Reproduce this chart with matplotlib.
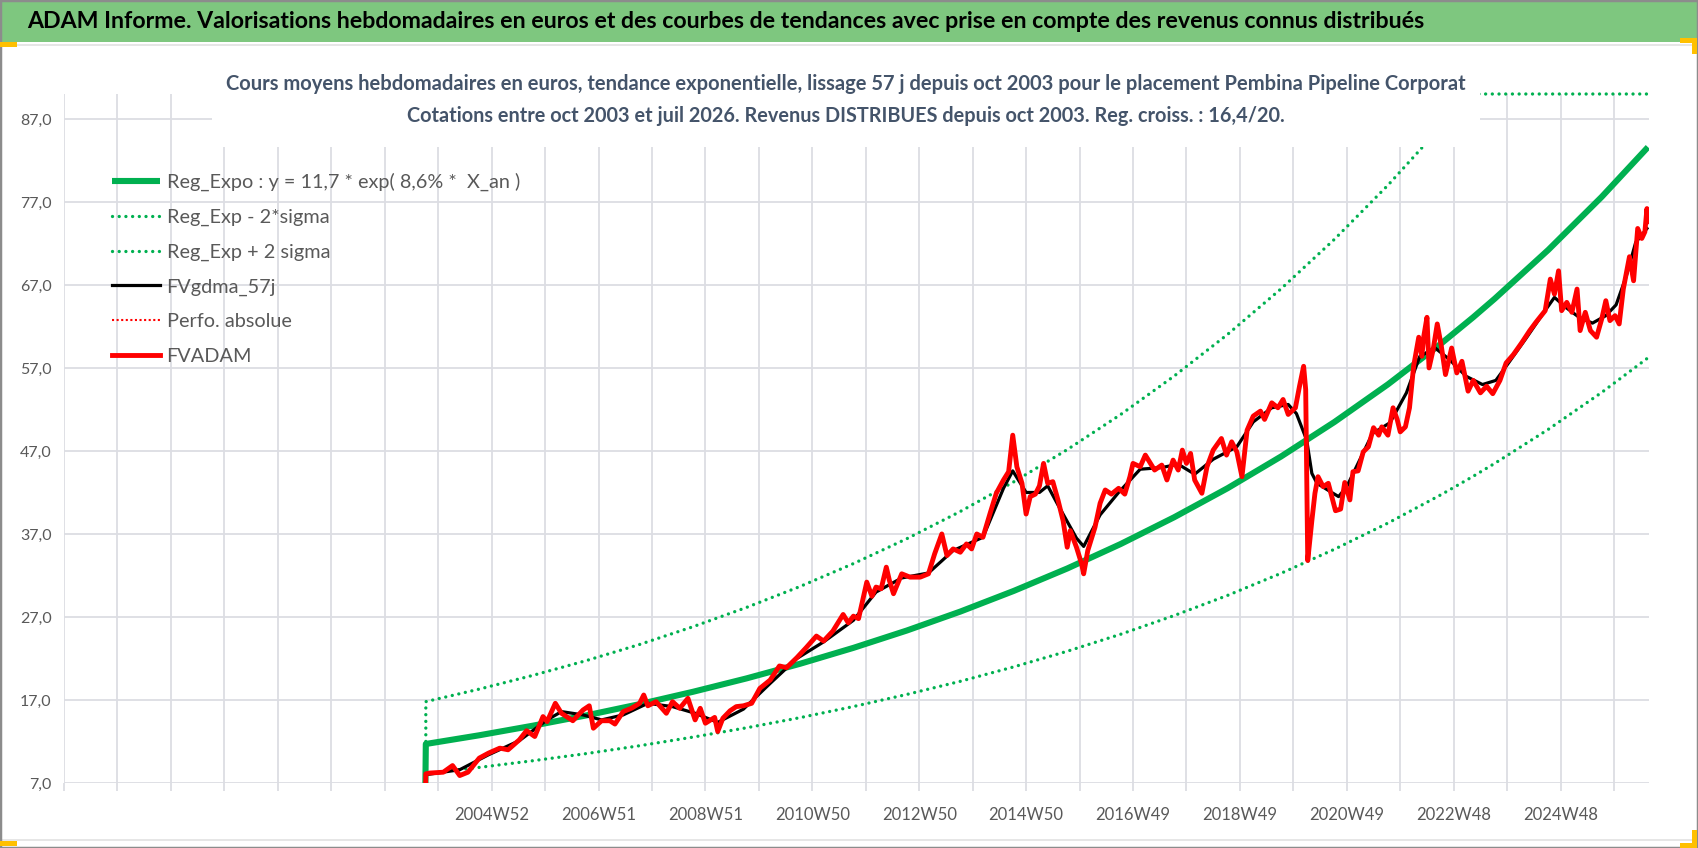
import numpy as np
import matplotlib.pyplot as plt
from matplotlib.patches import Rectangle

plt.rcParams['font.family'] = ['Lato', 'DejaVu Sans']

# ---- data (weekly categories, index 0 = left edge of the category axis) ----
n_weeks = 1542

tick_labels = ['2004W52', '2006W51', '2008W51', '2010W50', '2012W50', '2014W50',
               '2016W49', '2018W49', '2020W49', '2022W48', '2024W48']
tick_label_pos = [416, 520, 624, 728, 832, 936, 1040, 1144, 1248, 1352, 1456]

# regression curve Reg_Expo (read each ~52 weeks) and +/- 2 sigma bands
trend_weeks = [352, 404, 456, 508, 560, 612, 664, 716, 768, 820, 872, 924,
               976, 1028, 1080, 1132, 1184, 1236, 1288, 1340, 1371, 1392, 1444, 1496, 1541]
reg_expo = [11.70, 12.75, 13.90, 15.14, 16.50, 17.99, 19.60, 21.36, 23.28, 25.37,
            27.65, 30.14, 32.84, 35.79, 39.01, 42.51, 46.33, 50.49, 55.02, 59.96,
            63.11, 65.35, 71.22, 77.61, 83.60]
reg_minus = [8.15, 8.88, 9.68, 10.54, 11.49, 12.53, 13.65, 14.87, 16.21, 17.67,
             19.25, 20.99, 22.87, 24.92, 27.17, 29.60, 32.26, 35.16, 38.31, 41.75,
             43.95, 45.51, 49.60, 54.05, 58.22]
reg_plus = [16.80, 18.31, 19.96, 21.74, 23.69, 25.83, 28.15, 30.67, 33.43, 36.43,
            39.71, 43.28, 47.16, 51.39, 56.02, 61.04, 66.53, 72.50, 79.01, 86.10,
            90.63, 93.84, 102.27, 111.45, 120.05]

# FVADAM weekly valuation
fv_weeks = [351, 352, 356, 369, 378, 385, 393, 404, 413, 424, 432, 443, 450, 458, 466,
            470, 478, 484, 495, 505, 511, 515, 523, 531, 536, 544, 552, 560, 564, 568,
            576, 586, 592, 599, 607, 614, 619, 624, 633, 636, 641, 648, 654, 661, 669,
            677, 687, 696, 703, 713, 722, 732, 739, 748, 758, 763, 768, 773, 781, 786,
            790, 795, 800, 803, 807, 815, 823, 833, 841, 847, 854, 859, 865, 872, 878,
            883, 888, 894, 901, 907, 914, 919, 923, 927, 932, 936, 940, 945, 949, 953,
            957, 962, 967, 972, 976, 979, 985, 990, 992, 996, 1003, 1008, 1013, 1019,
            1026, 1032, 1037, 1040, 1047, 1052, 1057, 1061, 1068, 1073, 1079, 1084,
            1088, 1092, 1096, 1100, 1107, 1112, 1118, 1126, 1131, 1136, 1141, 1146,
            1151, 1157, 1164, 1168, 1175, 1181, 1186, 1191, 1198, 1202, 1206, 1208,
            1210, 1214, 1217, 1220, 1225, 1230, 1237, 1242, 1246, 1251, 1254, 1259,
            1264, 1269, 1274, 1279, 1282, 1288, 1293, 1297, 1300, 1305, 1309, 1313,
            1318, 1321, 1323, 1326, 1328, 1332, 1336, 1340, 1344, 1350, 1355, 1360,
            1366, 1371, 1378, 1384, 1390, 1397, 1403, 1410, 1418, 1426, 1432, 1441,
            1446, 1450, 1454, 1457, 1462, 1467, 1472, 1475, 1480, 1485, 1491, 1496,
            1500, 1504, 1509, 1513, 1517, 1523, 1527, 1531, 1535, 1538, 1540, 1541]
fvadam = [0.0, 8.1, 8.2, 8.3, 9.1, 7.9, 8.3, 10.0, 10.6, 11.2, 11.0, 12.2, 13.3, 12.6, 15.0,
          14.4, 16.6, 15.4, 14.5, 15.8, 16.3, 13.6, 14.5, 14.5, 14.1, 15.6, 16.0, 16.6, 17.6, 16.3,
          16.8, 15.4, 16.8, 16.0, 17.2, 14.6, 16.0, 14.2, 14.9, 13.2, 14.8, 15.7, 16.2, 16.3, 16.6,
          18.4, 19.4, 21.1, 20.9, 22.1, 23.3, 24.7, 24.1, 25.3, 27.3, 26.3, 27.1, 26.8, 31.2, 29.5,
          30.6, 30.4, 33.0, 31.4, 29.8, 32.2, 31.8, 31.8, 32.2, 34.6, 37.0, 34.4, 35.2, 34.8, 35.8,
          35.2, 37.0, 36.6, 39.5, 41.9, 43.5, 44.5, 48.9, 45.1, 43.1, 39.4, 41.5, 41.8, 42.8, 45.5,
          43.1, 43.3, 41.1, 38.6, 35.4, 37.4, 35.4, 33.4, 32.2, 35.0, 37.8, 40.7, 42.3, 41.8,
          42.5, 41.8, 43.9, 45.5, 45.1, 46.5, 45.5, 44.7, 45.3, 43.5, 45.9, 44.7,
          47.1, 45.5, 46.7, 43.5, 41.9, 45.1, 47.1, 48.5, 46.5, 48.1, 46.9, 43.9,
          49.5, 51.2, 51.8, 50.8, 52.8, 52.2, 53.2, 51.4, 52.2, 54.8, 57.2, 54.4,
          33.8, 38.6, 41.9, 43.9, 42.7, 43.1, 39.8, 40.0, 43.2, 41.1, 44.5, 44.6,
          46.9, 47.5, 49.8, 48.9, 49.9, 48.9, 52.2, 50.8, 49.3, 49.9, 52.2, 57.2,
          60.7, 58.4, 60.9, 63.1, 57.0, 59.2, 62.3, 59.6, 56.2, 59.4, 56.4, 57.8,
          54.2, 55.5, 54.0, 54.8, 53.9, 55.5, 57.6, 58.6, 60.0, 61.5, 62.5, 63.9,
          67.7, 65.9, 68.7, 63.9, 64.9, 63.7, 66.5, 61.5, 63.7, 61.5, 60.7, 62.9,
          65.1, 62.7, 63.3, 62.3, 66.5, 70.4, 67.5, 73.8, 72.6, 73.4, 76.2, 74.6]

# FVgdma_57j smoothed curve
ma_weeks = [351, 352, 385, 413, 443, 470, 484, 505, 523, 544, 568, 592, 614, 636, 661,
            687, 713, 739, 768, 790, 815, 841, 865, 894, 914, 923, 936, 949, 957, 967,
            985, 992, 1008, 1026, 1047, 1068, 1084, 1100, 1118, 1141, 1157, 1175, 1191,
            1199, 1209, 1214, 1219, 1232, 1240, 1248, 1273, 1290, 1306, 1319, 1334, 1348,
            1364, 1380, 1393, 1403, 1422, 1442, 1450, 1461, 1474, 1487, 1500, 1510, 1520,
            1529, 1540]
fvgdma = [0.0, 8.0, 8.6, 10.4, 12.1, 14.6, 15.6, 15.2, 14.6, 15.2, 16.6, 16.2, 15.4, 14.3, 15.9,
          19.0, 22.0, 24.0, 26.6, 30.0, 31.7, 32.3, 35.0, 36.6, 42.5, 44.6, 42.0, 42.0, 42.8, 40.5,
          36.5, 35.5, 39.3, 42.0, 44.8, 45.0, 45.4, 44.2, 46.0, 47.5, 50.5, 52.2, 52.6,
          51.5, 48.3, 44.3, 43.1, 42.1, 41.5, 42.7, 49.1, 50.4, 54.0, 58.4, 59.4, 58.0,
          56.0, 55.0, 55.5, 57.2, 60.5, 64.1, 65.5, 64.3, 63.1, 62.4, 63.3, 64.6, 68.1,
          72.1, 73.8]

y_min, y_max = 7.0, 90.0

# ---- figure ----
W, H = 1698, 848
fig = plt.figure(figsize=(W / 100, H / 100), dpi=100)
fig.patch.set_facecolor('white')

def fx(px):
    return px / W

def fy(py):
    return 1 - py / H

ax = fig.add_axes([fx(64), fy(783), fx(1649) - fx(64), fy(94) - fy(783)])
grid_c = '#dcdde3'
green = '#00b050'

ax.set_xlim(0, n_weeks)
ax.set_ylim(y_min, y_max)
ax.set_yticks(np.arange(7, 88, 10))
ax.set_yticklabels([f'{v:.1f}'.replace('.', ',') for v in np.arange(7, 88, 10)])
major = list(range(0, 1509, 52))
ax.set_xticks(major)
ax.set_xticklabels([tick_labels[tick_label_pos.index(m)] if m in tick_label_pos else ''
                    for m in major])
ax.grid(True, color=grid_c, lw=1.3)
ax.set_axisbelow(True)
for s in ax.spines.values():
    s.set_visible(False)
ax.tick_params(axis='y', length=0, pad=9, labelsize=11.5, labelcolor='#595959')
ax.tick_params(axis='x', length=6, width=1.3, color=grid_c, pad=11,
               labelsize=12, labelcolor='#595959')

# Excel draws off-scale points on the border
plus_clipped = np.minimum(np.array(reg_plus), y_max)

dots = (0, (0.01, 2.0))
ax.plot([351] + trend_weeks, [0.0] + reg_expo, color=green, lw=4.4,
        solid_capstyle='butt', label='Reg_Expo : y = 11,7 * exp( 8,6% *  X_an )')
ax.plot(trend_weeks, reg_minus, color=green, lw=2.4, ls=dots, dash_capstyle='round',
        label='Reg_Exp - 2*sigma')
ax.plot([352] + trend_weeks, [12.0] + list(plus_clipped), color=green, lw=2.4, ls=dots,
        dash_capstyle='round', clip_on=False, label='Reg_Exp + 2 sigma')
ax.plot(ma_weeks, fvgdma, color='black', lw=2.3, label='FVgdma_57j')
ax.plot([], [], color='#ff0000', lw=1.5, ls=(0, (1, 1.2)), label='Perfo. absolue')
ax.plot(fv_weeks, fvadam, color='#ff0000', lw=3.5, solid_joinstyle='round',
        label='FVADAM')

leg = ax.legend(loc='upper left', bbox_to_anchor=(fx(112), fy(173)),
                bbox_transform=fig.transFigure, frameon=False, fontsize=14.3,
                handlelength=2.4, handletextpad=0.35, labelspacing=0.88,
                borderpad=0, borderaxespad=0)
for t in leg.get_texts():
    t.set_color('#595959')

# white box of the chart title (hides what lies behind it)
fig.patches.append(Rectangle((fx(212), fy(147)), fx(1480) - fx(212), fy(62) - fy(147),
                             transform=fig.transFigure, facecolor='white',
                             edgecolor='none', zorder=2))
fig.text(fx(846), fy(84), 'Cours moyens hebdomadaires en euros, tendance exponentielle, '
         'lissage 57 j depuis oct 2003 pour le placement Pembina Pipeline Corporat',
         ha='center', va='center', fontsize=14.5, fontweight='bold', color='#44546a',
         zorder=3)
fig.text(fx(846), fy(116), 'Cotations entre oct 2003 et juil 2026. Revenus DISTRIBUES '
         'depuis oct 2003. Reg. croiss. : 16,4/20.',
         ha='center', va='center', fontsize=14.3, fontweight='bold', color='#44546a',
         zorder=3)

# green header band
fig.patches.append(Rectangle((0, fy(42)), 1, fy(2) - fy(42), transform=fig.transFigure,
                             facecolor='#7ec77f', edgecolor='none', zorder=2))
fig.text(fx(27), fy(22), 'ADAM Informe. Valorisations hebdomadaires en euros et des courbes '
         'de tendances avec prise en compte des revenus connus distribués',
         ha='left', va='center', fontsize=16.7, fontweight='bold', color='black', zorder=3)

# thin sheet lines, frame and the yellow handles
fig.patches.append(Rectangle((0, fy(46)), 1, fy(44) - fy(46), transform=fig.transFigure,
                             facecolor='#e6e6e6', edgecolor='none', zorder=2))
fig.patches.append(Rectangle((0, fy(841)), 1, fy(839) - fy(841), transform=fig.transFigure,
                             facecolor='#e6e6e6', edgecolor='none', zorder=2))
fig.patches.append(Rectangle((0, 0), 1, 1, transform=fig.transFigure, facecolor='none',
                             edgecolor='#8c8c8c', lw=2.5, zorder=4))
yellow = '#ffc000'
for (x0, y0, x1, y1) in [(0, 42, 17, 47), (1680, 38, 1697, 43), (1692, 38, 1697, 54),
                         (0, 841, 17, 846), (1692, 830, 1697, 848), (1680, 843, 1697, 848)]:
    fig.patches.append(Rectangle((fx(x0), fy(y1)), fx(x1) - fx(x0), fy(y0) - fy(y1),
                                 transform=fig.transFigure, facecolor=yellow,
                                 edgecolor='none', zorder=5))

fig.savefig('out.png', dpi=100)
